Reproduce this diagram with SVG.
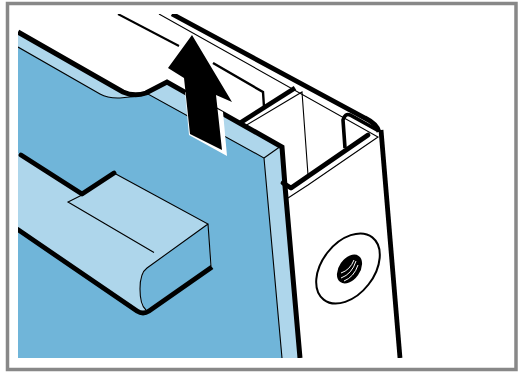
<svg xmlns="http://www.w3.org/2000/svg" width="518" height="372" viewBox="0 0 518 372">
<style>
.t{fill:none;stroke:#000;stroke-width:4.800;stroke-linejoin:round}
.m{fill:none;stroke:#000;stroke-width:3.600}
.h{fill:none;stroke:#000;stroke-width:1.100}
.d{fill:#70b5d9}
.l{fill:#aed6eb}
</style>
<defs><clipPath id="c"><rect x="18" y="14" width="480" height="344"/></clipPath></defs>
<rect width="518" height="372" fill="#fff"/>
<g id="drawing" clip-path="url(#c)">
<path class="l" d="M18 32L123 92Q134 97 146 93L167 82L282 147L300 358H18Z"/>
<path class="d" d="M18 47L100 94Q108 98.500 120 98Q135 97 148 94L264 158L282 358H18Z"/>
<path class="l" d="M21 155L82 194L114 173L208 224L212 267L146 313Q142 314 138 311L18 229V153Z"/>
<path class="d" d="M147 268L208 224L211 266L146 310Q140 300 140 289Q141 273 147 268Z"/>
<path class="h" d="M18 47L100 94Q108 98.500 120 98Q135 97 148 94L264 158L282 358"/>
<path class="h" d="M264 158L281 146"/>
<path class="h" d="M82 195L68 202L154 252.500M114 173L208 224L147 268Q140 273 140 289Q140 305 146 310M208 224L211 266"/>
<path d="M18 32L123 92Q134 97 146 93L167 82L282 147L285 186L300 358" fill="none" stroke="#000" stroke-width="5"/>
<path d="M21 155L82 194L114 173" class="t" stroke-linecap="round"/>
<path d="M17 229L137 311Q143 315 149 311L212 267" class="t"/>
<path d="M118 14L179 46" fill="none" stroke="#000" stroke-width="2"/>
<path d="M159 14L378 137L308 185L288 198" class="h"/>
<path d="M172 14L365 118Q377 124 379 132" fill="none" stroke="#000" stroke-width="4.800"/>
<path d="M381 130L400 358" fill="none" stroke="#000" stroke-width="4.800"/>
<path d="M213 63L263 92L264 107" fill="none" stroke="#000" stroke-width="2.400"/>
<path d="M240 123L295 88" fill="none" stroke="#000" stroke-width="4.600"/>
<path d="M245 126L302 92L308 175" class="h"/>
<path d="M283 183L291 188L368 135" class="t" stroke-linecap="round"/>
<path d="M345 148L343 120Q345 113 350 115L377 130" class="m"/>
<path d="M185 92L189 135L227 156L223 112Z" fill="#fff"/>
<path d="M192 35L232 102L216 95L222 150L190 134L184 78L168 68Z" fill="#000"/>
<ellipse cx="348" cy="268.500" rx="26" ry="39.500" transform="rotate(38 348 268.500)" fill="#fff" stroke="#000" stroke-width="2"/>
<ellipse cx="349.500" cy="269" rx="10.500" ry="16" transform="rotate(35 349.500 269)" fill="#000"/>
<path d="M341 273Q350 270 354 260M341 278Q352 274 356 261M344 281Q354 277 358 265" fill="none" stroke="#fff" stroke-width="1"/>
</g>
<path d="M7.500 3.500H516V369.500H7.500Z" fill="none" stroke="#888" stroke-width="3.500"/>
</svg>
